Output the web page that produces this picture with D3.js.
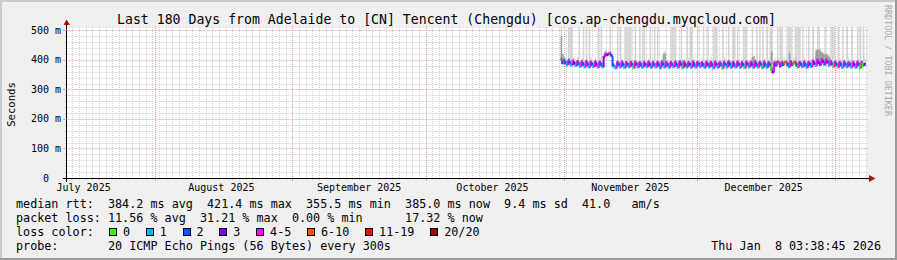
<!DOCTYPE html>
<html><head><meta charset="utf-8">
<script src="https://cdn.jsdelivr.net/npm/d3@7"></script>
<style>
html,body{margin:0;padding:0;background:#f0f0f0;}
svg{display:block;}
text{font-family:"DejaVu Sans Mono",monospace;white-space:pre;}
</style></head><body><svg id="c" width="897" height="260"></svg>
<script>
// ---------------- data ----------------
const titleText = "Last 180 Days from Adelaide to [CN] Tencent (Chengdu) [cos.ap-chengdu.myqcloud.com]";
const yAxisTitle = "Seconds";
const watermark = "RRDTOOL / TOBI OETIKER";
const endTime = new Date(2026, 0, 8, 3, 38, 45);
const rangeDays = 180;
const dataStart = new Date(2025, 9, 31, 8, 0, 0);
const stepHours = 8;
const minorGridHours = 36;
const yMax = 508;
const yTicks = [0, 100, 200, 300, 400, 500];
const yTickLabels = ["0", "100 m", "200 m", "300 m", "400 m", "500 m"];
const monthLabels = ["July 2025", "August 2025", "September 2025", "October 2025", "November 2025", "December 2025"];
const monthLabelDates = [new Date(2025,6,16), new Date(2025,7,16), new Date(2025,8,16), new Date(2025,9,16), new Date(2025,10,16), new Date(2025,11,16)];

// median rtt (ms), one value per 8 h, from Oct 31 08:00
const median = [
  400, 389,
  398, 388, 382,  397, 387, 381,  396, 386, 379,  394, 384, 377,  393, 383, 375,
  394, 382, 374,  392, 383, 376,  393, 381, 374,  392, 382, 375,  410, 419, 416,
  418, 421, 414,  381, 376, 372,  391, 382, 374,  392, 381, 373,  390, 382, 375,
  391, 381, 372,  392, 383, 374,  390, 380, 373,  391, 382, 375,  392, 381, 373,
  390, 382, 374,  391, 380, 372,  392, 383, 374,  390, 381, 373,  391, 382, 375,
  392, 381, 373,  393, 382, 372,  391, 380, 374,  390, 382, 373,  392, 381, 374,
  391, 383, 375,  390, 381, 373,  392, 382, 374,  391, 380, 372,  392, 382, 373,
  390, 381, 371,  391, 383, 374,  393, 382, 373,  391, 380, 374,  392, 382, 373,
  390, 381, 372,  392, 383, 374,  391, 382, 373,  393, 381, 374,  391, 382, 372,
  392, 380, 373,  390, 381, 366,  357, 389, 380,  392, 388, 378,  391, 383, 390,
  391, 382, 375,  393, 383, 389,  392, 381, 374,  391, 383, 375,  392, 381, 373,
  391, 383, 376,  395, 386, 380,  398, 389, 383,  400, 392, 384,  399, 390, 381,
  394, 384, 376,
  392, 382, 374,  391, 381, 373,  392, 383, 375,  390, 382, 374,  391, 381, 373,
  392, 382, 372,  391, 379, 385
];
// lost pings out of 20, same samples
const loss = [
  6, 2,
  4,2,1, 5,2,1, 4,3,1, 4,2,1, 5,2,1,
  4,2,1, 4,2,1, 4,3,1, 5,2,1, 3,5,3,
  3,5,2, 2,1,1, 4,2,1, 5,2,1, 4,2,1,
  4,2,0, 5,2,1, 4,2,1, 4,3,1, 4,2,1,
  5,2,1, 4,2,1, 4,2,1, 4,2,1, 5,2,1,
  4,2,1, 4,2,0, 4,3,1, 5,2,1, 4,2,1,
  4,2,1, 4,2,1, 5,3,1, 4,2,1, 4,2,1,
  4,2,0, 5,2,1, 4,2,1, 4,2,1, 5,2,1,
  4,2,0, 4,2,1, 4,3,1, 5,2,1, 4,2,0,
  4,2,1, 4,2,0, 3,5,2, 4,6,2, 4,2,6,
  6,2,1, 5,2,6, 6,2,0, 4,2,1, 4,2,1,
  5,2,1, 4,3,1, 5,3,2, 4,3,2, 5,3,1,
  4,2,0,
  4,2,0, 4,2,1, 5,2,1, 4,2,1, 4,3,1,
  4,2,0, 4,0,3
];
// highest ping of each sample (ms); above the chart top is clipped
const smokeMax = [
  520, 410,
  412, 405, 400,  520, 520, 520,  408, 404, 398,  410, 520, 396,  405, 520, 395,
  520, 400, 520,  406, 398, 392,  404, 400, 520,  405, 520, 393,  430, 436, 428,
  430, 520, 426,  392, 388, 384,  520, 398, 520,  404, 400, 520,  520, 520, 520,
  520, 398, 392,  520, 400, 393,  520, 399, 520,  520, 400, 392,  405, 520, 391,
  404, 520, 392,  520, 398, 390,  406, 425, 432,  404, 399, 392,  520, 520, 520,
  520, 398, 391,  404, 520, 395,  405, 400, 520,  406, 520, 520,  404, 398, 392,
  520, 400, 393,  405, 520, 391,  404, 520, 392,  406, 399, 520,  520, 520, 391,
  403, 398, 520,  405, 400, 392,  520, 399, 391,  520, 520, 392,  520, 400, 391,
  404, 520, 520,  520, 400, 393,  405, 520, 412,  404, 520, 392,  520, 399, 520,
  405, 398, 520,  404, 520, 520,  395, 405, 400,  520, 408, 520,  520, 402, 404,
  404, 520, 520,  520, 401, 406,  520, 520, 520,  520, 400, 520,  405, 399, 392,
  520, 401, 394,  520, 404, 435,  520, 520, 438,  425, 425, 520,  424, 418, 412,
  520, 520, 520,
  404, 400, 520,  405, 399, 520,  404, 400, 520,  405, 401, 520,  404, 399, 392,
  520, 398, 520,  398, 520, 404
];
// upper edge of the densely packed pings (darkest smoke), ms
const smokeDense = [
  406, 395,
  405, 396, 388,  404, 395, 387,  402, 393, 385,  400, 391, 383,  399, 390, 381,
  400, 389, 380,  398, 390, 382,  399, 388, 380,  398, 389, 381,  416, 425, 422,
  424, 427, 420,  388, 383, 378,  397, 389, 380,  398, 388, 379,  396, 389, 381,
  397, 388, 378,  398, 390, 380,  396, 387, 379,  397, 389, 381,  398, 388, 379,
  396, 389, 380,  397, 387, 378,  398, 389, 380,  396, 388, 379,  397, 389, 381,
  398, 388, 379,  399, 388, 378,  397, 387, 380,  396, 389, 379,  398, 388, 380,
  397, 390, 381,  396, 388, 379,  398, 389, 380,  397, 387, 378,  398, 389, 379,
  396, 388, 377,  397, 390, 380,  399, 389, 379,  397, 387, 380,  398, 389, 379,
  396, 388, 378,  398, 390, 380,  397, 388, 379,  399, 388, 380,  397, 389, 378,
  398, 387, 379,  396, 388, 372,  372, 396, 386,  398, 395, 384,  397, 390, 396,
  397, 389, 381,  399, 390, 395,  398, 388, 380,  397, 390, 381,  398, 388, 379,
  397, 390, 382,  401, 392, 386,  404, 395, 389,  406, 398, 390,  405, 396, 387,
  400, 391, 382,
  398, 389, 380,  397, 388, 379,  398, 390, 381,  396, 389, 380,  397, 388, 379,
  398, 389, 378,  397, 386, 391
];
// samples with a taller mid-grey smoke band: [sample index, upper ms]
const darkSmoke = [[0,480],[1,420],[69,418],[70,422],[82,400],[129,410],[130,412],[142,428],
  [154,424],[172,432],[173,436],[174,434],[175,428],[176,425],[177,420],[178,418],
  [179,420],[180,414],[181,408]];

const lossLabels = ["0", "1", "2", "3", "4-5", "6-10", "11-19", "20/20"];
const lossUpper = [0, 1, 2, 3, 5, 10, 19, 20];
const lossColors = ["#26ff00", "#00b8ff", "#0059ff", "#7e00ff", "#ff00ff", "#ff5500", "#ff0000", "#a10000"];

const legendRows = [
  "median rtt:  384.2 ms avg  421.4 ms max  355.5 ms min  385.0 ms now  9.4 ms sd  41.0   am/s",
  "packet loss: 11.56 % avg  31.21 % max  0.00 % min      17.32 % now",
  "loss color:",
  "probe:       20 ICMP Echo Pings (56 Bytes) every 300s"
];
const stampText = "Thu Jan  8 03:38:45 2026";

// ---------------- drawing ----------------
const W = 897, H = 260;
const X0 = 66.5, X1 = 866.5, Y0 = 178, Y1 = 28;
const svg = d3.select("#c");
const startTime = new Date(endTime.getTime() - rangeDays * 864e5);
const x = d3.scaleTime().domain([startTime, endTime]).range([X0, X1]);
const y = d3.scaleLinear().domain([0, yMax]).range([Y0, Y1]);
const px = v => Math.round(v) + 0.5;

svg.append("rect").attr("width", W).attr("height", H).attr("fill", "#f0f0f0");
svg.append("path").attr("d", `M0,${H} V0 H${W}`).attr("stroke", "#cbcbcb").attr("stroke-width", 2).attr("fill", "none").attr("transform","translate(1,1)");
svg.append("path").attr("d", `M0,${H-1} H${W-1} V0`).attr("stroke", "#999").attr("stroke-width", 2).attr("fill", "none");
svg.append("rect").attr("x", 67).attr("y", Y1).attr("width", 800).attr("height", Y0 - Y1).attr("fill", "#fff");

const grid = svg.append("g");
const minorY = d3.range(20, yMax, 20).filter(v => v % 100 !== 0);
minorY.forEach(v => {
  const yy = px(y(v));
  grid.append("line").attr("x1", X0 - 2).attr("x2", X1 + 2).attr("y1", yy).attr("y2", yy)
    .attr("stroke", "#cfcfcf").attr("stroke-dasharray", "1,1");
});
const monthStarts = d3.timeMonth.range(startTime, endTime).map(t => px(x(t)));
const gridStart = d3.timeDay.floor(startTime);
for (let t = gridStart; t < endTime; t = new Date(t.getTime() + minorGridHours * 36e5)) {
  if (t < startTime) continue;
  const xx = px(x(t));
  if (monthStarts.some(m => Math.abs(m - xx) < 2)) continue;
  grid.append("line").attr("x1", xx).attr("x2", xx).attr("y1", Y0 + 2).attr("y2", Y1 - 2)
    .attr("stroke", "#cfcfcf").attr("stroke-dasharray", "1,1");
}
yTicks.filter(v => v > 0).forEach(v => {
  const yy = px(y(v));
  grid.append("line").attr("x1", X0 - 2).attr("x2", X1 + 2).attr("y1", yy).attr("y2", yy)
    .attr("stroke", "#f29a9a").attr("stroke-dasharray", "1,1");
});
monthStarts.forEach(xx => {
  grid.append("line").attr("x1", xx).attr("x2", xx).attr("y1", Y0 + 3).attr("y2", Y1 - 2)
    .attr("stroke", "#f29a9a").attr("stroke-dasharray", "1,1");
});

const times = median.map((_, i) => new Date(dataStart.getTime() + i * stepHours * 36e5));
const tEnd = i => new Date(dataStart.getTime() + (i + 1) * stepHours * 36e5);
const bucket = l => lossUpper.findIndex(u => l <= u);
const plot = svg.append("g");
plot.selectAll("rect.smoke").data(median).join("rect").attr("class", "smoke")
  .attr("x", (d, i) => x(times[i])).attr("width", (d, i) => x(tEnd(i)) - x(times[i]))
  .attr("y", (d, i) => Math.max(Y1 - 1, y(smokeMax[i])))
  .attr("height", (d, i) => Math.max(0, y(d) - Math.max(Y1 - 1, y(smokeMax[i]))))
  .attr("fill", "#d3d3d3");
plot.selectAll("rect.dark").data(darkSmoke).join("rect").attr("class", "dark")
  .attr("x", d => x(times[d[0]])).attr("width", d => x(tEnd(d[0])) - x(times[d[0]]))
  .attr("y", d => y(d[1])).attr("height", d => Math.max(0, y(median[d[0]]) - y(d[1])))
  .attr("fill", "#9a9a9a");
plot.selectAll("rect.dense").data(smokeDense).join("rect").attr("class", "dense")
  .attr("x", (d, i) => x(times[i])).attr("width", (d, i) => x(tEnd(i)) - x(times[i]))
  .attr("y", d => y(d)).attr("height", (d, i) => Math.max(0, y(median[i]) - y(d)))
  .attr("fill", "#474747");
plot.selectAll("path.med").data(median).join("path").attr("class", "med")
  .attr("d", (d, i) => {
    const xa = x(times[i]), xb = x(tEnd(i)), yy = y(d);
    const yp = i > 0 ? y(median[i - 1]) : yy;
    return `M${xa},${yp}V${yy}H${xb}`;
  })
  .attr("fill", "none").attr("stroke-width", 2)
  .attr("stroke", (d, i) => lossColors[bucket(loss[i])]);

// axes
svg.append("line").attr("x1", 63).attr("x2", 871).attr("y1", Y0 + 0.5).attr("y2", Y0 + 0.5).attr("stroke", "#000");
svg.append("line").attr("x1", X0).attr("x2", X0).attr("y1", Y0 + 4).attr("y2", 24).attr("stroke", "#000");
svg.append("path").attr("d", `M869,175 L875.5,178.5 L869,182 Z`).attr("fill", "#a01414");
svg.append("path").attr("d", `M63.5,25 L66.5,19.5 L70,25 Z`).attr("fill", "#a01414");
yTicks.forEach(v => {
  const yy = px(y(v));
  svg.append("line").attr("x1", 63).attr("x2", X0).attr("y1", yy).attr("y2", yy).attr("stroke", v ? "#f29a9a" : "#000");
});
monthStarts.forEach(xx => {
  svg.append("line").attr("x1", xx).attr("x2", xx).attr("y1", Y0 + 1).attr("y2", Y0 + 3).attr("stroke", "#f29a9a");
});

svg.selectAll("text.yl").data(yTicks).join("text").attr("class", "yl")
  .attr("x", 61).attr("y", d => y(d) + 3.5).attr("text-anchor", "end")
  .attr("font-size", "10px").attr("fill", "#000")
  .text((d, i) => yTickLabels[i].includes(" ") ? yTickLabels[i] : yTickLabels[i] + "  ");
svg.selectAll("text.xl").data(monthLabels).join("text").attr("class", "xl")
  .attr("x", (d, i) => x(monthLabelDates[i])).attr("y", 191).attr("text-anchor", "middle")
  .attr("font-size", "10px").attr("fill", "#000").text(d => d);

svg.append("text").attr("x", 446.5).attr("y", 24).attr("text-anchor", "middle")
  .attr("font-size", "13.2px").attr("fill", "#000").text(titleText);
svg.append("text").attr("transform", "translate(15,104.5) rotate(-90)").attr("text-anchor", "middle")
  .attr("font-size", "10.6px").attr("fill", "#000").text(yAxisTitle);
svg.append("text").attr("transform", "translate(885,5) rotate(90)").attr("text-anchor", "start")
  .attr("font-size", "8.4px").attr("fill", "#a8a8a8").text(watermark);

const rowY = [208, 222, 236, 250];
legendRows.forEach((r, i) => {
  svg.append("text").attr("x", 16).attr("y", rowY[i]).attr("font-size", "11.75px").attr("fill", "#000").text(r);
});
let bx = 109;
const cw = 7.08;
lossLabels.forEach((l, i) => {
  svg.append("rect").attr("x", Math.round(bx) + 0.5).attr("y", 228.5).attr("width", 7).attr("height", 7)
    .attr("fill", lossColors[i]).attr("stroke", "#000");
  svg.append("text").attr("x", bx + 14).attr("y", rowY[2]).attr("font-size", "11.75px").attr("fill", "#000").text(l);
  bx = bx + 14 + l.length * cw + 15.7;
});
svg.append("text").attr("x", 881).attr("y", rowY[3]).attr("text-anchor", "end").attr("font-size", "11.75px").attr("fill", "#000").text(stampText);
</script></body></html>
